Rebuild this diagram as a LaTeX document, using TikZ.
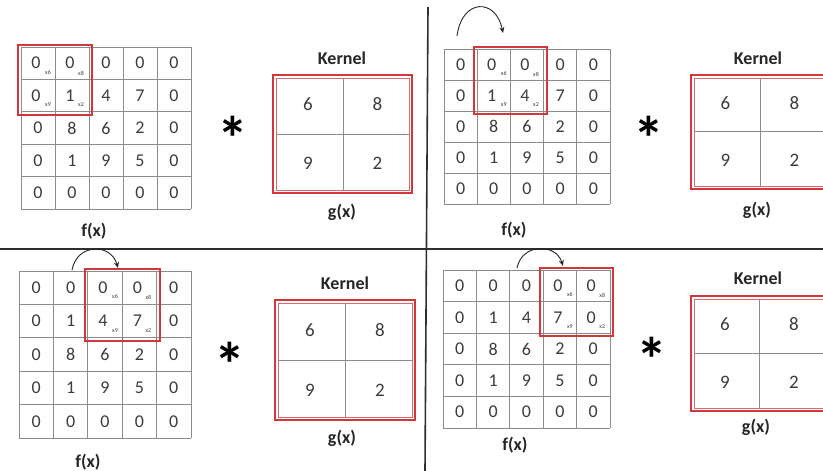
\documentclass[tikz,border=0pt]{standalone}
\usepackage{fontspec}
\setmainfont{Carlito}
\usetikzlibrary{arrows.meta}
\definecolor{redbox}{HTML}{D2373C}
\definecolor{gridgray}{HTML}{8C8C8C}
\definecolor{numgray}{HTML}{3C3C3C}
\definecolor{divgray}{HTML}{2E2E2E}
\tikzset{
  cellnum/.style={font=\fontsize{18}{21}\selectfont, text=numgray, inner sep=0pt},
  subnum/.style={font=\fontsize{6}{7}\selectfont, text=numgray, inner sep=0pt},
  kernnum/.style={font=\fontsize{19}{22}\selectfont, text=numgray, inner sep=0pt},
  lbl/.style={font=\fontsize{18}{21}\selectfont\bfseries, text=black!85, inner sep=0pt},
  starsym/.style={font=\fontsize{62}{70}\selectfont\bfseries, text=black, inner sep=0pt},
  gridline/.style={draw=gridgray, line width=0.7pt},
  redframe/.style={draw=redbox, line width=2pt},
  redinner/.style={draw=redbox!75, line width=0.8pt},
  divider/.style={draw=divgray, line width=1.6pt},
  slide/.style={draw=black!85, line width=0.9pt, -{Stealth[length=6pt,width=5pt]}},
}
% #1 name, #2 x0, #3 y0, #4 cell w, #5 cell h, #6 highlighted column
\newcommand\convpanel[6]{%
  \foreach \ii in {0,...,5}{
    \draw[gridline] (#2+\ii*#4, #3) -- (#2+\ii*#4, #3+5*#5);
    \draw[gridline] (#2, #3+\ii*#5) -- (#2+5*#4, #3+\ii*#5);
  }
  \foreach \rowvals [count=\ri from 0] in {{0,0,0,0,0},{0,1,4,7,0},{0,8,6,2,0},{0,1,9,5,0},{0,0,0,0,0}}{
    \foreach \vv [count=\ci from 0] in \rowvals {
      \pgfmathtruncatemacro\hl{and(\ri<2, and(\ci>=#6, \ci<=#6+1))}
      \pgfmathsetmacro\dx{-2*\hl}
      \node[cellnum] (#1-\ri-\ci) at (#2+\ci*#4+0.5*#4+\dx, #3+\ri*#5+0.5*#5) {\vv};
    }
  }
  \node[subnum] (#1-s6) at (#2+#6*#4+0.5*#4+10, #3+0.5*#5+9) {x6};
  \node[subnum] (#1-s8) at (#2+#6*#4+1.5*#4+9, #3+0.5*#5+10) {x8};
  \node[subnum] (#1-s9) at (#2+#6*#4+0.5*#4+10, #3+1.5*#5+9) {x9};
  \node[subnum] (#1-s2) at (#2+#6*#4+1.5*#4+9, #3+1.5*#5+9) {x2};
  \draw[redframe] (#2+#6*#4-3, #3-2) rectangle (#2+#6*#4+2*#4+3, #3+2*#5+3);
}
% #1 name, #2 x0, #3 y0, #4 x1, #5 y1, #6 mid x, #7 mid y
\newcommand\kernpanel[7]{%
  \draw[redframe] (#2,#3) rectangle (#4,#5);
  \draw[redinner] (#2+3,#3+3) rectangle (#4-3,#5-3);
  \draw[gridline] (#6,#3+3.5) -- (#6,#5-3.5);
  \draw[gridline] (#2+3.5,#7) -- (#4-3.5,#7);
  \node[kernnum] (#1-a) at ({(#2+#6)/2}, {(#3+#7)/2}) {6};
  \node[kernnum] (#1-b) at ({(#6+#4)/2}, {(#3+#7)/2}) {8};
  \node[kernnum] (#1-c) at ({(#2+#6)/2}, {(#7+#5)/2}) {9};
  \node[kernnum] (#1-d) at ({(#6+#4)/2}, {(#7+#5)/2}) {2};
}
\begin{document}
\begin{tikzpicture}[x=1pt,y=-1pt]
\useasboundingbox (0,0) rectangle (823,471);
\clip (0,0) rectangle (823,471);
\fill[white] (0,0) rectangle (823,471);

% dividers
\draw[divider] (0,249) -- (823,249);
\draw[divider] (428,7) -- (425,471);

% panel 1 (top left)
\convpanel{pa}{21}{47}{34}{32.4}{0}
\node[lbl] (pa-f) at (94,231) {f(x)};
\node[starsym] (pa-star) at (233,138) {*};
\kernpanel{ka}{273}{75}{412}{193}{343}{134}
\node[lbl] (ka-t) at (342,58) {Kernel};
\node[lbl] (ka-g) at (342,212) {g(x)};

% panel 2 (top right)
\convpanel{pb}{444}{49}{33.2}{31}{1}
\node[lbl] (pb-f) at (514,230) {f(x)};
\coordinate (pb-s) at (457,36);
\coordinate (pb-t) at (503,33);
\draw[slide] (pb-s) .. controls (462,-2) and (496,-2) .. (pb-t);
\node[starsym] (pb-star) at (649,138) {*};
\kernpanel{kb}{691}{75}{829}{189}{760}{131}
\node[lbl] (kb-t) at (758,58) {Kernel};
\node[lbl] (kb-g) at (757,210) {g(x)};

% panel 3 (bottom left)
\convpanel{pc}{19}{271}{34.4}{33.4}{2}
\node[lbl] (pc-f) at (88,462) {f(x)};
\coordinate (pc-s) at (72,270);
\coordinate (pc-t) at (118,268);
\draw[slide] (pc-s) .. controls (77,243) and (111,243) .. (pc-t);
\node[starsym] (pc-star) at (230,364) {*};
\kernpanel{kc}{275}{300}{415}{420}{345}{360}
\node[lbl] (kc-t) at (345,283) {Kernel};
\node[lbl] (kc-g) at (342,438) {g(x)};

% panel 4 (bottom right)
\convpanel{pd}{443}{270}{33.4}{31.6}{3}
\node[lbl] (pd-f) at (515,445) {f(x)};
\coordinate (pd-s) at (517,268);
\coordinate (pd-t) at (563,266);
\draw[slide] (pd-s) .. controls (522,243) and (556,243) .. (pd-t);
\node[starsym] (pd-star) at (652,359) {*};
\kernpanel{kd}{691}{296}{829}{411}{759}{353}
\node[lbl] (kd-t) at (758,278) {Kernel};
\node[lbl] (kd-g) at (756,427) {g(x)};
\end{tikzpicture}
\end{document}
